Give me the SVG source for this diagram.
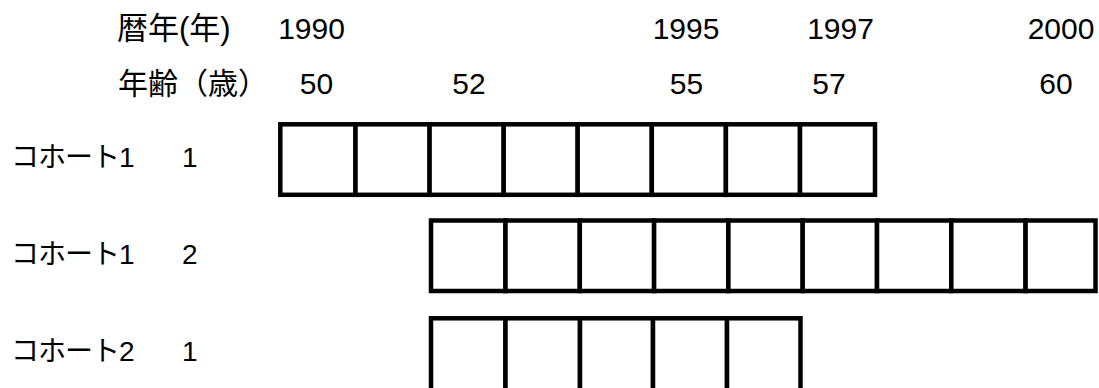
<svg xmlns="http://www.w3.org/2000/svg" width="1099" height="388" viewBox="0 0 1099 388">
<style>
text{font-family:"Liberation Sans","Noto Sans CJK JP",sans-serif;fill:#000}
.h{font-size:30px}
.h2{font-size:31px}
.n{font-size:30px;text-anchor:middle}
.l{font-size:28px;letter-spacing:-1px}
.c{fill:#fff;stroke:#000;stroke-width:4.5}
</style>
<rect width="1099" height="388" fill="#fff"/>
<g id="header">
<text class="h2" x="117" y="39">暦年(年)</text>
<text class="n" x="311.5" y="39">1990</text>
<text class="n" x="686" y="39">1995</text>
<text class="n" x="840.5" y="39">1997</text>
<text class="n" x="1061" y="39">2000</text>
<text class="h" x="118" y="94">年齢（歳）</text>
<text class="n" x="316.5" y="94">50</text>
<text class="n" x="469" y="94">52</text>
<text class="n" x="686.5" y="94">55</text>
<text class="n" x="829" y="94">57</text>
<text class="n" x="1056" y="94">60</text>
</g>
<g id="label-c1-1"><text class="l" x="11" y="167">コホート1</text><text class="l" x="182" y="167">1</text></g>
<g id="label-c1-2"><text class="l" x="11" y="264">コホート1</text><text class="l" x="182" y="264">2</text></g>
<g id="label-c2-1"><text class="l" x="11" y="361">コホート2</text><text class="l" x="182" y="361">1</text></g>
<g id="row-c1-1">
<rect class="c" x="280.3" y="124.3" width="75.2" height="70.5"/>
<rect class="c" x="355.5" y="124.3" width="74.1" height="70.5"/>
<rect class="c" x="429.6" y="124.3" width="74.1" height="70.5"/>
<rect class="c" x="503.7" y="124.3" width="74" height="70.5"/>
<rect class="c" x="577.7" y="124.3" width="74.1" height="70.5"/>
<rect class="c" x="651.8" y="124.3" width="74.1" height="70.5"/>
<rect class="c" x="725.9" y="124.3" width="74.1" height="70.5"/>
<rect class="c" x="800" y="124.3" width="75" height="70.5"/>
</g>
<g id="row-c1-2">
<rect class="c" x="431" y="220.5" width="74.5" height="70.5"/>
<rect class="c" x="505.5" y="220.5" width="74.3" height="70.5"/>
<rect class="c" x="579.8" y="220.5" width="74.3" height="70.5"/>
<rect class="c" x="654.1" y="220.5" width="74.3" height="70.5"/>
<rect class="c" x="728.4" y="220.5" width="74.3" height="70.5"/>
<rect class="c" x="802.7" y="220.5" width="74.3" height="70.5"/>
<rect class="c" x="877" y="220.5" width="74.3" height="70.5"/>
<rect class="c" x="951.3" y="220.5" width="74.3" height="70.5"/>
<rect class="c" x="1025.6" y="220.5" width="69.9" height="70.5"/>
</g>
<g id="row-c2-1">
<rect class="c" x="431" y="318.3" width="74.5" height="75"/>
<rect class="c" x="505.5" y="318.3" width="74.5" height="75"/>
<rect class="c" x="580" y="318.3" width="73" height="75"/>
<rect class="c" x="653" y="318.3" width="74" height="75"/>
<rect class="c" x="727" y="318.3" width="73.5" height="75"/>
</g>
<g id="connectors"/>
</svg>
